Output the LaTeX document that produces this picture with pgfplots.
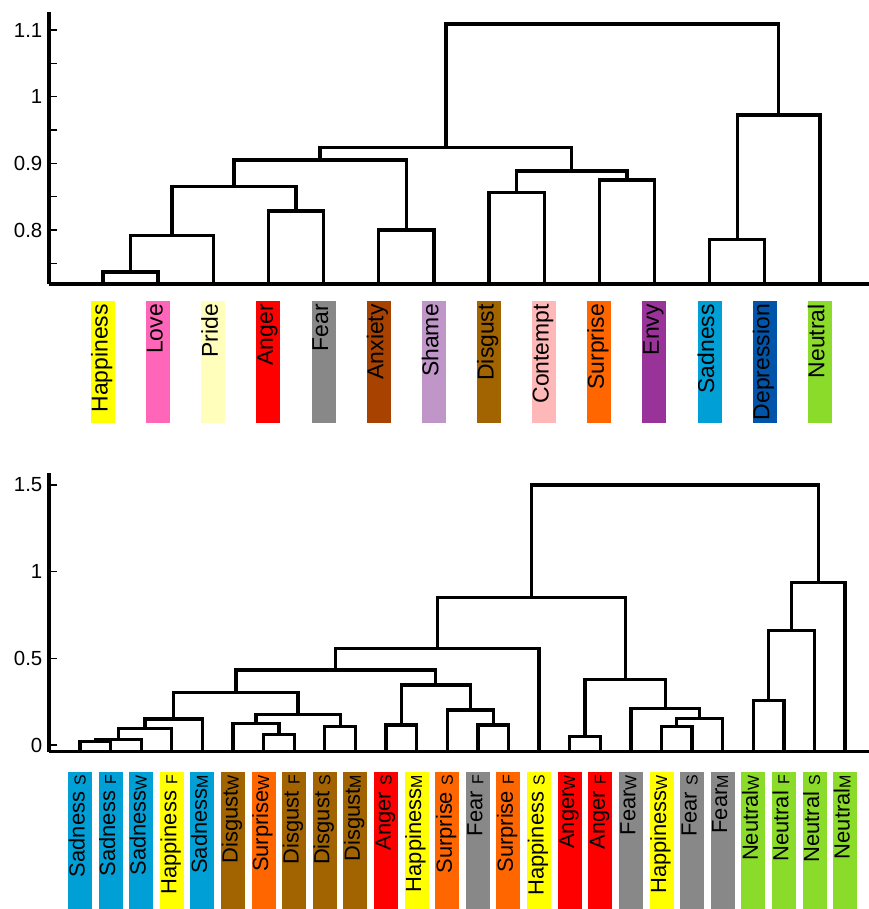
\documentclass[border=0pt]{standalone}
\usepackage{pgfplots}
\pgfplotsset{compat=1.18}
\usepackage{fontspec}
\setmainfont{Liberation Sans}

\definecolor{cHap}{HTML}{FFFF00}
\definecolor{cLove}{HTML}{FF66B9}
\definecolor{cPride}{HTML}{FFFFBB}
\definecolor{cAng}{HTML}{FF0000}
\definecolor{cFear}{HTML}{888888}
\definecolor{cAnx}{HTML}{A84200}
\definecolor{cSham}{HTML}{C096C8}
\definecolor{cDisg}{HTML}{A26400}
\definecolor{cCont}{HTML}{FFB8B8}
\definecolor{cSurp}{HTML}{FF6600}
\definecolor{cEnvy}{HTML}{993399}
\definecolor{cSad}{HTML}{00A0D6}
\definecolor{cDep}{HTML}{0055AA}
\definecolor{cNeu}{HTML}{8BDB2B}

% coloured label box: length, colour, text
\newcommand{\lab}[3]{{\setlength{\fboxsep}{0pt}\colorbox{#2}{\rule[-7.5bp]{0pt}{24bp}\makebox[#1][r]{#3\hspace{3bp}}}}}
\newcommand{\tl}[2]{\lab{122bp}{#1}{#2}}
\newcommand{\bl}[2]{\lab{137bp}{#1}{#2}}
\newcommand{\subn}[1]{\raisebox{-1bp}{\fontsize{16}{16}\selectfont #1}}
\newcommand{\subs}[1]{\hspace{6bp}\subn{#1}}

\pgfplotsset{
  dend/.style={black, line width=3.3bp, line join=miter, no marks},
  dendro/.style={
    scale only axis, width=820bp,
    axis lines*=left, axis line style={line width=3.3bp,-},
    tick align=inside,
    xtick style={draw=none},
    xticklabel style={rotate=90, anchor=east, inner sep=0pt},
    ytick style={line width=1.3bp, black},
    major tick length=7.5bp, minor tick length=7.5bp,
    yticklabel style={font=\fontsize{20.5}{22}\selectfont, inner sep=0pt, xshift=-6.5bp},
    /pgf/number format/assume math mode=true,
  },
}

\begin{document}
\begin{tikzpicture}
\useasboundingbox (0,0) rectangle (869bp,909bp);

\begin{axis}[dendro, at={(49bp,625bp)}, anchor=south west, height=272bp,
  xmin=0.021, xmax=14.89, ymin=0.719, ymax=1.127,
  xtick={1,...,14},
  xticklabels={{\tl{cHap}{Happiness}},{\tl{cLove}{Love}},{\tl{cPride}{Pride}},
    {\tl{cAng}{Anger}},{\tl{cFear}{Fear}},{\tl{cAnx}{Anxiety}},{\tl{cSham}{Shame}},
    {\tl{cDisg}{Disgust}},{\tl{cCont}{Contempt}},{\tl{cSurp}{Surprise}},
    {\tl{cEnvy}{Envy}},{\tl{cSad}{Sadness}},{\tl{cDep}{Depression}},{\tl{cNeu}{Neutral}}},
  xticklabel style={font=\fontsize{23}{24}\selectfont},
  xticklabel shift=17bp,
  ytick={0.8,0.9,1,1.1}, minor ytick={0.75,0.85,0.95,1.05},
]
\addplot[dend] coordinates {(1,0.719) (1,0.737) (2,0.737) (2,0.719)};
\addplot[dend] coordinates {(1.5,0.737) (1.5,0.7915) (3,0.7915) (3,0.719)};
\addplot[dend] coordinates {(4,0.719) (4,0.8285) (5,0.8285) (5,0.719)};
\addplot[dend] coordinates {(2.25,0.7915) (2.25,0.865) (4.5,0.865) (4.5,0.8285)};
\addplot[dend] coordinates {(6,0.719) (6,0.800) (7,0.800) (7,0.719)};
\addplot[dend] coordinates {(3.375,0.865) (3.375,0.905) (6.5,0.905) (6.5,0.800)};
\addplot[dend] coordinates {(8,0.719) (8,0.856) (9,0.856) (9,0.719)};
\addplot[dend] coordinates {(10,0.719) (10,0.875) (11,0.875) (11,0.719)};
\addplot[dend] coordinates {(8.5,0.856) (8.5,0.8885) (10.5,0.8885) (10.5,0.875)};
\addplot[dend] coordinates {(4.9375,0.905) (4.9375,0.924) (9.5,0.924) (9.5,0.8885)};
\addplot[dend] coordinates {(12,0.719) (12,0.786) (13,0.786) (13,0.719)};
\addplot[dend] coordinates {(12.5,0.786) (12.5,0.9725) (14,0.9725) (14,0.719)};
\addplot[dend] coordinates {(7.21875,0.924) (7.21875,1.109) (13.25,1.109) (13.25,0.9725)};
\end{axis}

\begin{axis}[dendro, at={(49bp,157.3bp)}, anchor=south west, height=278.7bp,
  xmin=-0.013, xmax=26.78, ymin=-0.0387, ymax=1.569,
  xtick={1,...,26},
  xticklabels={{\bl{cSad}{Sadness\subs{S}}},{\bl{cSad}{Sadness\subs{F}}},
    {\bl{cSad}{Sadness\subn{W}}},{\bl{cHap}{Happiness\subs{F}}},
    {\bl{cSad}{Sadness\subn{M}}},{\bl{cDisg}{Disgust\subn{W}}},
    {\bl{cSurp}{Surprise\subn{W}}},{\bl{cDisg}{Disgust\subs{F}}},
    {\bl{cDisg}{Disgust\subs{S}}},{\bl{cDisg}{Disgust\subn{M}}},
    {\bl{cAng}{Anger\subs{S}}},{\bl{cHap}{Happiness\subn{M}}},
    {\bl{cSurp}{Surprise\subs{S}}},{\bl{cFear}{Fear\subs{F}}},
    {\bl{cSurp}{Surprise\subs{F}}},{\bl{cHap}{Happiness\subs{S}}},
    {\bl{cAng}{Anger\subn{W}}},{\bl{cAng}{Anger\subs{F}}},
    {\bl{cFear}{Fear\subn{W}}},{\bl{cHap}{Happiness\subn{W}}},
    {\bl{cFear}{Fear\subs{S}}},{\bl{cFear}{Fear\subn{M}}},
    {\bl{cNeu}{Neutral\subn{W}}},{\bl{cNeu}{Neutral\subs{F}}},
    {\bl{cNeu}{Neutral\subs{S}}},{\bl{cNeu}{Neutral\subn{M}}}},
  xticklabel style={font=\fontsize{22}{23}\selectfont},
  xticklabel shift=20.3bp,
  ytick={0,0.5,1,1.5},
]
\addplot[dend] coordinates {(1,-0.0387) (1,0.019) (2,0.019) (2,-0.0387)};
\addplot[dend] coordinates {(1.5,0.019) (1.5,0.033) (3,0.033) (3,-0.0387)};
\addplot[dend] coordinates {(2.25,0.033) (2.25,0.096) (4,0.096) (4,-0.0387)};
\addplot[dend] coordinates {(3.125,0.096) (3.125,0.150) (5,0.150) (5,-0.0387)};
\addplot[dend] coordinates {(7,-0.0387) (7,0.062) (8,0.062) (8,-0.0387)};
\addplot[dend] coordinates {(6,-0.0387) (6,0.125) (7.5,0.125) (7.5,0.062)};
\addplot[dend] coordinates {(9,-0.0387) (9,0.106) (10,0.106) (10,-0.0387)};
\addplot[dend] coordinates {(6.75,0.125) (6.75,0.177) (9.5,0.177) (9.5,0.106)};
\addplot[dend] coordinates {(4.0625,0.150) (4.0625,0.302) (8.125,0.302) (8.125,0.177)};
\addplot[dend] coordinates {(11,-0.0387) (11,0.115) (12,0.115) (12,-0.0387)};
\addplot[dend] coordinates {(14,-0.0387) (14,0.115) (15,0.115) (15,-0.0387)};
\addplot[dend] coordinates {(13,-0.0387) (13,0.202) (14.5,0.202) (14.5,0.115)};
\addplot[dend] coordinates {(11.5,0.115) (11.5,0.346) (13.75,0.346) (13.75,0.202)};
\addplot[dend] coordinates {(6.09375,0.302) (6.09375,0.433) (12.625,0.433) (12.625,0.346)};
\addplot[dend] coordinates {(9.359,0.433) (9.359,0.558) (16,0.558) (16,-0.0387)};
\addplot[dend] coordinates {(17,-0.0387) (17,0.048) (18,0.048) (18,-0.0387)};
\addplot[dend] coordinates {(20,-0.0387) (20,0.106) (21,0.106) (21,-0.0387)};
\addplot[dend] coordinates {(20.5,0.106) (20.5,0.154) (22,0.154) (22,-0.0387)};
\addplot[dend] coordinates {(19,-0.0387) (19,0.212) (21.25,0.212) (21.25,0.154)};
\addplot[dend] coordinates {(17.5,0.048) (17.5,0.379) (20.125,0.379) (20.125,0.212)};
\addplot[dend] coordinates {(12.68,0.558) (12.68,0.852) (18.8125,0.852) (18.8125,0.379)};
\addplot[dend] coordinates {(23,-0.0387) (23,0.256) (24,0.256) (24,-0.0387)};
\addplot[dend] coordinates {(23.5,0.256) (23.5,0.660) (25,0.660) (25,-0.0387)};
\addplot[dend] coordinates {(24.25,0.660) (24.25,0.937) (26,0.937) (26,-0.0387)};
\addplot[dend] coordinates {(15.746,0.852) (15.746,1.5) (25.125,1.5) (25.125,0.937)};
\end{axis}
\end{tikzpicture}
\end{document}
